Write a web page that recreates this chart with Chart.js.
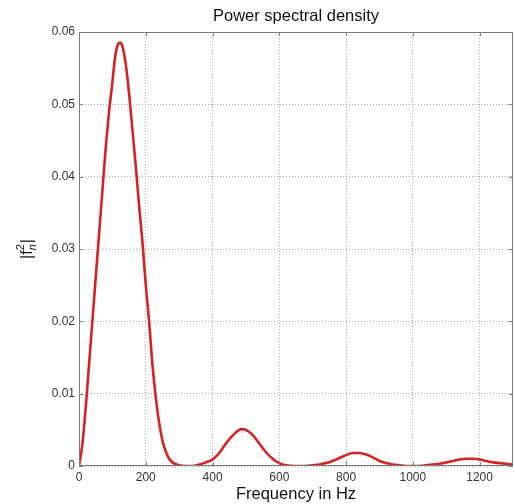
<!DOCTYPE html>
<html>
<head>
<meta charset="utf-8">
<script src="https://cdn.jsdelivr.net/npm/chart.js@4.4.1/dist/chart.umd.min.js"></script>
<style>
  html, body { margin: 0; padding: 0; background: #fff; }
  #wrap { width: 515px; height: 504px; }
</style>
</head>
<body>
<div id="wrap"><canvas id="c" width="515" height="504"></canvas></div>
<script>
// frequency samples (Hz) and power
var freqs = [0, 10, 20, 30, 40, 50, 60, 70, 80, 90, 100, 105, 110, 115, 120, 125, 130, 135, 140, 150, 160, 170, 180, 190,
	200, 210, 220, 230, 240, 250, 260, 270, 280, 300, 320, 340, 360, 380, 400, 420, 440, 460, 480, 490,
	500, 520, 540, 560, 580, 600, 620, 650, 680, 700, 720, 740, 760, 780, 800, 820, 840, 860, 880, 900,
	920, 940, 960, 980, 1000, 1020, 1040, 1060, 1080, 1100, 1120, 1140, 1160, 1180, 1200, 1220, 1240,
	1260, 1280, 1300];
var psd = [0, 0.003, 0.008, 0.014, 0.020, 0.026, 0.032, 0.038, 0.044, 0.049, 0.053, 0.0553, 0.0571, 0.0581, 0.0585, 0.0585, 0.0580, 0.0570, 0.0556, 0.0515, 0.0465, 0.0415, 0.0360, 0.0310,
	0.0250, 0.0200, 0.0140, 0.0095, 0.0060, 0.0035, 0.0020, 0.0010, 0.0005, 0.0001, 0, 0, 0.0002, 0.0005, 0.0009, 0.0018, 0.0031, 0.0042, 0.0050, 0.0051,
	0.0050, 0.0043, 0.0031, 0.0019, 0.0010, 0.0004, 0.0001, 0, 0, 0.0001, 0.0002, 0.0004, 0.0007, 0.0011, 0.0015, 0.0018, 0.0018, 0.0016, 0.0012, 0.0007,
	0.0004, 0.0002, 0.0001, 0, 0, 0, 0.0001, 0.0002, 0.0003, 0.0005, 0.0007, 0.0009, 0.0010, 0.0010, 0.0009, 0.0007, 0.0005,
	0.0004, 0.0003, 0.0002];
var xTicks = [0, 200, 400, 600, 800, 1000, 1200];
var yTicks = [0, 0.01, 0.02, 0.03, 0.04, 0.05, 0.06];

var titleText = 'Power spectral density',
	xLabel = 'Frequency in Hz',
	font = '"Liberation Sans", Arial, sans-serif';

var points = freqs.map(function (f, i) {
	return { x: f, y: psd[i] };
});

// box, inner tick marks, title and axis labels (MATLAB look)
var decorations = {
	id: 'decorations',
	afterDraw: function (chart) {
		var ctx = chart.ctx,
			a = chart.chartArea,
			xs = chart.scales.x,
			ys = chart.scales.y;
		ctx.save();
		ctx.strokeStyle = '#7a7a7a';
		ctx.lineWidth = 1;
		ctx.strokeRect(a.left + 0.5, a.top + 0.5, a.right - a.left - 1, a.bottom - a.top - 1);

		// inward ticks
		ctx.beginPath();
		xTicks.forEach(function (v) {
			var px = Math.round(xs.getPixelForValue(v)) + 0.5;
			ctx.moveTo(px, a.bottom); ctx.lineTo(px, a.bottom - 4);
			ctx.moveTo(px, a.top); ctx.lineTo(px, a.top + 4);
		});
		yTicks.forEach(function (v) {
			var py = Math.round(ys.getPixelForValue(v)) + 0.5;
			ctx.moveTo(a.left, py); ctx.lineTo(a.left + 4, py);
			ctx.moveTo(a.right, py); ctx.lineTo(a.right - 4, py);
		});
		ctx.stroke();

		var cx = (a.left + a.right) / 2;
		ctx.fillStyle = '#111';
		ctx.textAlign = 'center';
		ctx.textBaseline = 'middle';
		ctx.font = '16.5px ' + font;
		ctx.fillText(titleText, cx, 16);
		ctx.font = '16.5px ' + font;
		ctx.fillText(xLabel, cx, 494);

		// y label |f_n^2|, rotated
		ctx.translate(26, (a.top + a.bottom) / 2);
		ctx.rotate(-Math.PI / 2);
		ctx.textAlign = 'left';
		ctx.textBaseline = 'alphabetic';
		ctx.font = '16px ' + font;
		var w1 = ctx.measureText('|f').width,
			w2, total, x0;
		ctx.font = '11px ' + font;
		w2 = ctx.measureText('2').width;
		ctx.font = '16px ' + font;
		total = w1 + w2 + 1 + ctx.measureText('|').width;
		x0 = -total / 2;
		ctx.fillText('|f', x0, 6);
		ctx.font = 'italic 11px ' + font;
		ctx.fillText('n', x0 + w1, 10);
		ctx.font = '11px ' + font;
		ctx.fillText('2', x0 + w1, -2);
		ctx.font = '16px ' + font;
		ctx.fillText('|', x0 + w1 + w2 + 1, 6);
		ctx.restore();
	}
};

new Chart(document.getElementById('c'), {
	type: 'scatter',
	data: {
		datasets: [{
			data: points,
			showLine: true,
			borderColor: '#d62222',
			borderWidth: 2.6,
			pointRadius: 0,
			cubicInterpolationMode: 'monotone',
			fill: false
		}]
	},
	options: {
		responsive: false,
		animation: false,
		layout: { padding: { top: 32, right: 2, left: 0, bottom: 0 } },
		plugins: {
			legend: { display: false },
			title: { display: false },
			tooltip: { enabled: false }
		},
		scales: {
			x: {
				type: 'linear',
				min: 0,
				max: 1300,
				afterFit: function (s) { s.height = 38; },
				afterBuildTicks: function (s) {
					s.ticks = xTicks.map(function (v) { return { value: v }; });
				},
				border: { display: false, dash: [1, 2] },
				grid: {
					color: '#a8a8a8',
					lineWidth: 1,
					drawTicks: false
				},
				ticks: {
					padding: 4,
					color: '#333',
					font: { family: font, size: 12 },
					callback: function (v) { return String(v); }
				}
			},
			y: {
				min: 0,
				max: 0.06,
				afterFit: function (s) { s.width = 79; },
				afterBuildTicks: function (s) {
					s.ticks = yTicks.map(function (v) { return { value: v }; });
				},
				border: { display: false, dash: [1, 2] },
				grid: {
					color: '#a8a8a8',
					lineWidth: 1,
					drawTicks: false
				},
				ticks: {
					padding: 4,
					color: '#333',
					font: { family: font, size: 12 },
					callback: function (v) {
						return v === 0 ? '0' : (+v).toFixed(2);
					}
				}
			}
		}
	},
	plugins: [decorations]
});
</script>
</body>
</html>
